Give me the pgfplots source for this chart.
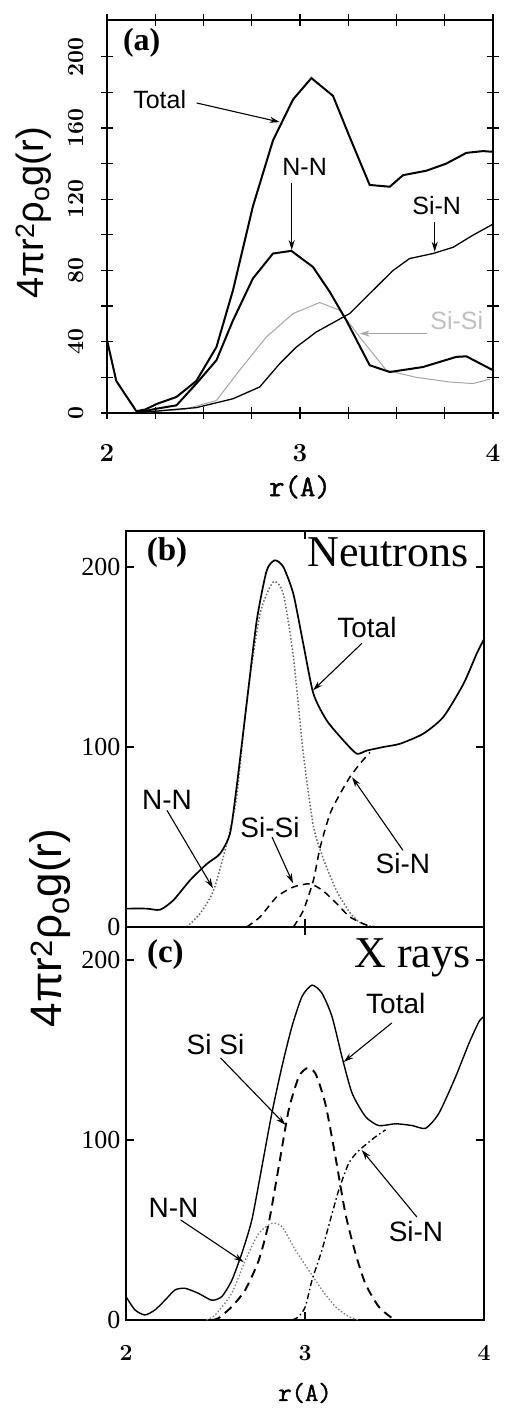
\documentclass[border=0pt]{standalone}
\usepackage{pgfplots}
\pgfplotsset{compat=1.18}
\usepackage{fontspec}
\usetikzlibrary{arrows.meta}
\newfontfamily\sans{Liberation Sans}
\newfontfamily\serif{Liberation Serif}
\newfontfamily\ttb[FakeBold=1.5]{Latin Modern Mono}
\newcommand\fs[1]{\fontsize{#1}{#1}\selectfont}

\begin{document}
\begin{tikzpicture}[>={Stealth[length=10pt,width=6pt]}]
\useasboundingbox (0,0) rectangle (504pt,1420pt);

% ---------------- panel (a) ----------------
\begin{axis}[
  at={(107pt,1007pt)}, anchor=south west,
  scale only axis, width=386pt, height=393pt,
  xmin=2, xmax=4, ymin=0, ymax=220.6,
  xtick={2,3,4}, minor xtick={2.25,2.5,2.75,3.25,3.5,3.75},
  ytick={0,40,...,200}, minor ytick={20,60,...,180},
  tick align=center, major tick length=12pt, minor tick length=12pt,
  tick style={line width=1.2pt, black},
  axis line style={line width=1.8pt},
  /pgf/number format/assume math mode=true,
  xticklabel style={font=\fs{26}\bfseries},
  yticklabel style={font=\fs{23}\bfseries, rotate=90, anchor=south},
  xticklabel shift=22pt, yticklabel shift=14pt,
  clip=false,
]
\addplot[no marks, black!35, line width=1pt] coordinates {
(2.20,0.5)(2.40,2)(2.567,7)(2.687,24)(2.826,42.7)(2.964,55.8)(3.102,62)(3.205,57.7)(3.309,42.7)(3.447,24)(3.603,20)(3.775,17.4)(3.896,16.5)(3.983,19)};
\addplot[no marks, black, line width=1.3pt] coordinates {
(2.15,0)(2.30,1.5)(2.463,3)(2.653,8)(2.791,14.6)(2.895,27.7)(2.981,37)(3.085,45.5)(3.257,55.8)(3.361,67)(3.482,80)(3.568,86.7)(3.689,89.5)(3.793,93)(3.896,99.8)(4.0,106)};
\addplot[no marks, black, line width=2pt] coordinates {
(2.15,0)(2.256,2.4)(2.36,4.3)(2.463,16.5)(2.567,29.6)(2.653,52)(2.756,75.5)(2.86,89.5)(2.955,91)(3.067,82)(3.154,68)(3.240,52)(3.361,26.8)(3.465,23)(3.637,25.8)(3.81,31.5)(3.862,31.8)(4.0,24)};
\addplot[no marks, black, line width=2pt] coordinates {
(2.00,41)(2.048,18)(2.152,1)(2.20,2)(2.256,5)(2.36,9)(2.463,18)(2.567,37)(2.653,69)(2.756,116)(2.86,153)(2.964,176)(3.059,188)(3.171,178)(3.257,155)(3.361,128)(3.465,127)(3.534,133.5)(3.655,136)(3.758,140)(3.862,146)(3.948,147)(4.0,146.6)};
\node[font=\serif\bfseries\fs{32}] at (2.18,208) {(a)};
\node[font=\sans\fs{25}] at (2.273,175.7) {Total};
\draw[->, line width=1.1pt] (2.465,174) -- (2.895,163.3);
\node[font=\sans\fs{25}] at (3.024,138) {N-N};
\draw[->, line width=1.1pt] (2.957,129) -- (2.957,91.5);
\node[font=\sans\fs{25}] at (3.708,116.6) {Si-N};
\draw[->, line width=1.1pt] (3.698,107) -- (3.698,90.5);
\node[font=\sans\fs{25}, text=black!25] at (3.812,52) {Si-Si};
\draw[->, line width=0.8pt, black!35] (3.656,44.6) -- (3.309,44.6);
\end{axis}

% ---------------- panel (b) ----------------
\begin{axis}[
  at={(126pt,493pt)}, anchor=south west,
  scale only axis, width=358pt, height=396pt,
  xmin=2, xmax=4, ymin=0, ymax=220,
  xtick={2,3,4}, xticklabels={},
  ytick={0,100,200},
  tick align=inside, major tick length=8pt,
  tick style={line width=1.2pt, black},
  axis line style={line width=1.6pt},
  /pgf/number format/assume math mode=true,
  yticklabel style={font=\serif\fs{26}},
  yticklabel shift=2pt,
  clip=false,
]
\addplot[no marks, black!60, line width=1.5pt, dash pattern=on 1.5pt off 2pt, smooth, tension=0.4] coordinates {
(2.339,0)(2.413,7.4)(2.488,20)(2.562,46)(2.618,72)(2.674,125)(2.749,174)(2.823,191.7)(2.879,185)(2.935,150)(2.991,96)(3.047,56)(3.102,38)(3.177,20)(3.251,8)(3.307,2.5)(3.382,0)};
\addplot[no marks, black, line width=1.5pt, dash pattern=on 7pt off 5pt, smooth, tension=0.4] coordinates {
(2.674,0)(2.749,5.6)(2.842,16.7)(2.935,22.2)(3.028,24)(3.102,20)(3.177,13)(3.251,5.6)(3.345,1)(3.40,0)};
\addplot[no marks, black, line width=1.5pt, dash pattern=on 7pt off 5pt, smooth, tension=0.4] coordinates {
(2.935,0)(2.991,9.3)(3.047,26)(3.084,44)(3.140,63)(3.196,74)(3.251,83.3)(3.307,90.7)(3.363,97)};
\addplot[no marks, black, line width=1.7pt, smooth, tension=0.4] coordinates {
(2.0,10.2)(2.115,10.2)(2.19,9.6)(2.264,14.8)(2.358,26)(2.451,35)(2.525,40.7)(2.581,51.9)(2.618,77.8)(2.674,124)(2.730,170)(2.786,198)(2.832,203.7)(2.879,200)(2.935,185)(2.991,157)(3.047,129.6)(3.121,114.8)(3.214,103.7)(3.289,96.3)(3.345,98)(3.438,100)(3.531,101.8)(3.661,107.4)(3.773,116.7)(3.885,135)(3.959,151.8)(4.0,160)};
\node[font=\serif\bfseries\fs{33}] at (2.229,208) {(b)};
\node[font=\serif\fs{44}, anchor=base] at (3.464,200) {Neutrons};
\node[font=\sans\fs{28}] at (3.346,166.5) {Total};
\draw[->, line width=1.1pt] (3.318,157.6) -- (3.045,131.5);
\node[font=\sans\fs{28}] at (2.229,70.4) {N-N};
\draw[->, line width=1.1pt] (2.229,64.8) -- (2.486,21.5);
\node[font=\sans\fs{28}] at (2.804,55.5) {Si-Si};
\draw[->, line width=1.1pt] (2.816,49.9) -- (2.933,24.3);
\node[font=\sans\fs{28}] at (3.547,35.4) {Si-N};
\draw[->, line width=1.1pt] (3.547,42.6) -- (3.263,83.2);
\end{axis}

% ---------------- panel (c) ----------------
\begin{axis}[
  at={(126pt,100pt)}, anchor=south west,
  scale only axis, width=358pt, height=393pt,
  xmin=2, xmax=4, ymin=0, ymax=218.3,
  xtick={2,3,4},
  ytick={0,100,200},
  tick align=inside, major tick length=8pt,
  tick style={line width=1.2pt, black},
  axis line style={line width=1.6pt},
  /pgf/number format/assume math mode=true,
  yticklabel style={font=\serif\fs{26}},
  yticklabel shift=2pt,
  xticklabel style={font=\fs{23}\bfseries},
  xticklabel shift=22pt,
  clip=false,
]
\addplot[no marks, black!50, line width=1.3pt, dash pattern=on 1.5pt off 2pt, smooth, tension=0.4] coordinates {
(2.45,0)(2.498,2.8)(2.591,14.8)(2.666,33)(2.741,48)(2.815,53.7)(2.871,51.9)(2.946,38.9)(3.02,27.8)(3.095,16.7)(3.17,7.4)(3.244,1.9)(3.3,0)};
\addplot[no marks, black, line width=1.4pt, dash pattern=on 6pt off 3pt on 1.5pt off 3pt, smooth, tension=0.4] coordinates {
(2.93,0)(2.965,1.9)(3.002,7.4)(3.039,22)(3.095,39)(3.151,59)(3.188,72)(3.244,87)(3.3,94)(3.394,101.8)(3.45,105.6)};
\addplot[no marks, black, line width=1.9pt, dash pattern=on 9pt off 6pt, smooth, tension=0.4] coordinates {
(2.48,0)(2.517,1)(2.591,7.4)(2.666,16.7)(2.741,33)(2.797,53.7)(2.853,85)(2.909,116.7)(2.965,135)(3.011,139.8)(3.058,137)(3.114,120)(3.17,90.7)(3.226,59)(3.282,37)(3.338,20)(3.412,7.4)(3.487,1)(3.52,0)};
\addplot[no marks, black, line width=1.4pt, smooth, tension=0.4] coordinates {
(2.0,13)(2.05,5.6)(2.106,2.8)(2.162,5.6)(2.218,11)(2.274,16.7)(2.330,17.6)(2.405,14.8)(2.479,11)(2.535,13)(2.591,22)(2.647,37)(2.703,55.6)(2.759,85)(2.815,115)(2.871,140.7)(2.927,163)(2.983,179.6)(3.039,186)(3.095,181.5)(3.151,168.5)(3.207,146)(3.263,126)(3.338,113)(3.412,108)(3.506,109)(3.599,108)(3.674,106.5)(3.748,114.8)(3.841,135)(3.916,153.7)(3.972,165.7)(4.0,168.5)};
\node[font=\serif\bfseries\fs{33}] at (2.22,203) {(c)};
\node[font=\serif\fs{44}, anchor=base] at (3.60,196) {X rays};
\node[font=\sans\fs{28}] at (3.507,176) {Total};
\draw[->, line width=1.1pt] (3.485,165) -- (3.216,143.3);
\node[font=\sans\fs{28}] at (2.50,152.8) {Si Si};
\draw[->, line width=1.1pt] (2.528,145.6) -- (2.891,108.3);
\node[font=\sans\fs{28}] at (2.265,62.2) {N-N};
\draw[->, line width=1.1pt] (2.305,55.6) -- (2.657,32.2);
\node[font=\sans\fs{28}] at (3.62,48.9) {Si-N};
\draw[->, line width=1.1pt] (3.625,57.2) -- (3.317,94.4);
\end{axis}

% axis titles
\node[rotate=90, font=\sans\fs{38}] at (34pt,1207pt) {4πr\textsuperscript{2}ρ\textsubscript{o}g(r)};
\node[rotate=90, font=\sans\fs{44}] at (50pt,492pt) {4πr\textsuperscript{2}ρ\textsubscript{o}g(r)};
\node[font=\ttb\fs{30}] at (300pt,933pt) {r(A)};
\node[font=\ttb\fs{26}] at (305pt,27pt) {r(A)};
\end{tikzpicture}
\end{document}
